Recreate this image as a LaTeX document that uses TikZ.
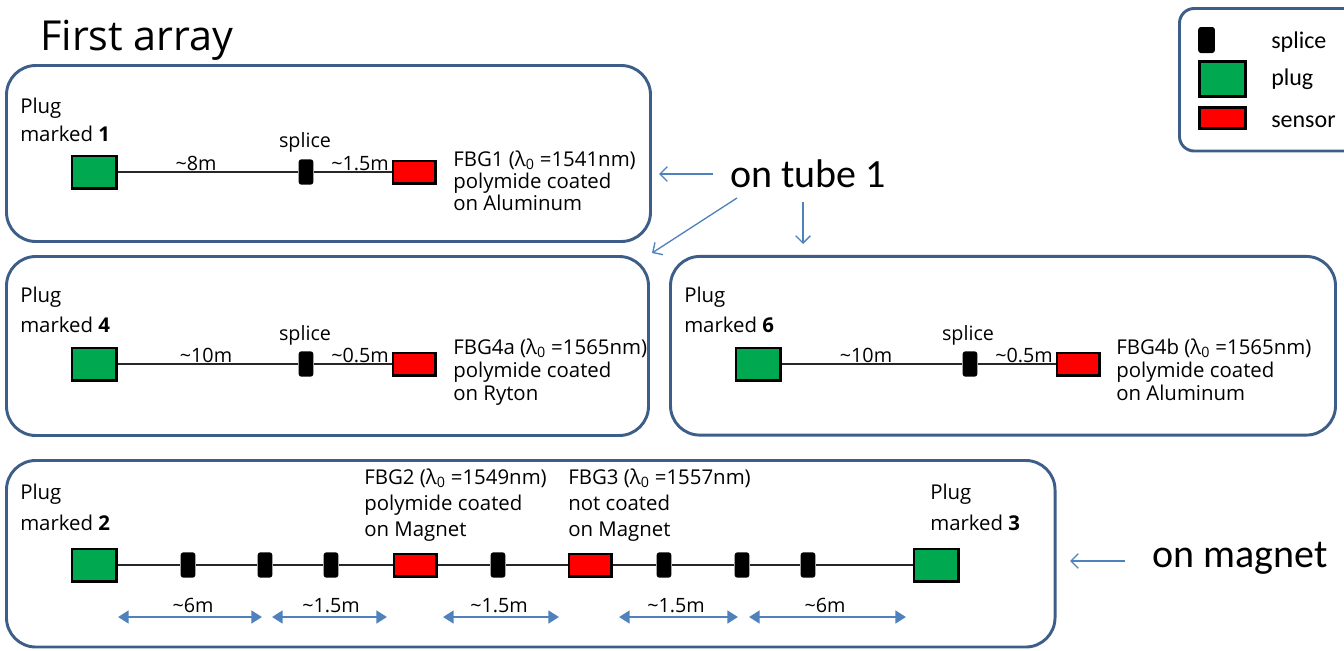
\documentclass[tikz,border=0pt]{standalone}
\usepackage{fontspec}
\setmainfont{Open Sans}
\newfontfamily\calib{Carlito}
\usetikzlibrary{arrows.meta}
\definecolor{framecol}{RGB}{62,94,138}
\definecolor{arrcol}{RGB}{79,129,189}
\definecolor{plugcol}{RGB}{0,168,80}
\definecolor{senscol}{RGB}{255,0,0}
\begin{document}
\begin{tikzpicture}[x=0.75pt,y=-0.75pt,
 frame/.style={draw=framecol, line width=2.2pt, rounded corners=22pt, inner sep=0pt},
 plugbox/.style={draw=black, line width=2pt, fill=plugcol, minimum width=33.25pt, minimum height=24.25pt, inner sep=0pt},
 splicebox/.style={fill=black, rounded corners=2pt, minimum width=11pt, minimum height=19pt, inner sep=0pt},
 sensbox/.style={draw=black, line width=2pt, fill=senscol, minimum width=31.75pt, minimum height=16.75pt, inner sep=0pt},
 fiber/.style={draw=black!85, line width=1.1pt},
 txt/.style={anchor=base west, inner sep=0pt, font=\fontsize{15.3}{18}\selectfont},
 lbl/.style={anchor=base, inner sep=0pt, font=\fontsize{14.8}{17}\selectfont},
 big/.style={anchor=base west, inner sep=0pt, font=\calib\fontsize{30}{36}\selectfont},
 legtxt/.style={anchor=base west, inner sep=0pt, font=\calib\fontsize{18}{22}\selectfont},
 pointer/.style={draw=arrcol, line width=1pt, -{Straight Barb[length=5.5pt,width=11pt]}},
 dim/.style={draw=arrcol, line width=2pt, {Triangle[length=8pt,width=9.5pt]}-{Triangle[length=8pt,width=9.5pt]}},
]
\useasboundingbox (0,0) rectangle (1344,650);

% title
\node[anchor=base west, inner sep=0pt, font=\fontsize{31}{36}\selectfont] (title) at (40,50) {First array};

% frames
\node[frame, minimum width=483pt, minimum height=132pt] (box1) at (328.5,153.5) {};
\node[frame, minimum width=481.5pt, minimum height=134.25pt] (box4) at (327.5,346) {};
\node[frame, minimum width=498.75pt, minimum height=134pt] (box6) at (1003,345.75) {};
\node[frame, minimum width=786.4pt, minimum height=139.9pt] (box23) at (530.75,553.75) {};

% legend
\node[frame, rounded corners=11pt, fill=white, minimum width=165.4pt, minimum height=106.9pt] (leg) at (1289.75,79.75) {};
\node[splicebox, minimum width=12.5pt, minimum height=19.5pt] (lsp) at (1206.5,40) {};
\node[plugbox, minimum width=34.75pt, minimum height=26.5pt] (lpl) at (1222.5,79) {};
\node[sensbox, minimum width=34.75pt, minimum height=16pt] (lse) at (1222.5,118) {};
\node[legtxt] (lspt) at (1271,48) {splice};
\node[legtxt] (lplt) at (1271,85) {plug};
\node[legtxt] (lset) at (1271,127) {sensor};

% ---- box 1
\node[txt] (p1a) at (20,113) {Plug};
\node[txt] (p1b) at (20,141) {marked \textbf{1}};
\node[plugbox] (g1) at (94,172) {};
\node[splicebox] (s1) at (306,172) {};
\node[sensbox] (r1) at (414,172) {};
\draw[fiber] (g1) -- (s1);
\draw[fiber] (s1) -- (r1);
\node[lbl] (sl1) at (305,147) {splice};
\node[lbl] (d1a) at (196,170) {\textasciitilde8m};
\node[lbl] (d1b) at (360,170) {\textasciitilde1.5m};
\node[txt] (f1a) at (453,166) {FBG1 (λ\textsubscript{0} =1541nm)};
\node[txt] (f1b) at (453,188) {polymide coated};
\node[txt] (f1c) at (453,210) {on Aluminum};

% ---- box 4
\node[txt] (p4a) at (20,302) {Plug};
\node[txt] (p4b) at (20,332) {marked \textbf{4}};
\node[plugbox] (g4) at (94,364) {};
\node[splicebox] (s4) at (306,364) {};
\node[sensbox] (r4) at (414,364) {};
\draw[fiber] (g4) -- (s4);
\draw[fiber] (s4) -- (r4);
\node[lbl] (sl4) at (305,340) {splice};
\node[lbl] (d4a) at (206,362) {\textasciitilde10m};
\node[lbl] (d4b) at (360,362) {\textasciitilde0.5m};
\node[txt] (f4a) at (453,354) {FBG4a (λ\textsubscript{0} =1565nm)};
\node[txt] (f4b) at (453,377) {polymide coated};
\node[txt] (f4c) at (453,400) {on Ryton};

% ---- box 6
\node[txt] (p6a) at (684,302) {Plug};
\node[txt] (p6b) at (684,332) {marked \textbf{6}};
\node[plugbox] (g6) at (758,364) {};
\node[splicebox] (s6) at (970,364) {};
\node[sensbox] (r6) at (1078,364) {};
\draw[fiber] (g6) -- (s6);
\draw[fiber] (s6) -- (r6);
\node[lbl] (sl6) at (968,340) {splice};
\node[lbl] (d6a) at (866,362) {\textasciitilde10m};
\node[lbl] (d6b) at (1024,362) {\textasciitilde0.5m};
\node[txt] (f6a) at (1116,354) {FBG4b (λ\textsubscript{0} =1565nm)};
\node[txt] (f6b) at (1116,377) {polymide coated};
\node[txt] (f6c) at (1116,400) {on Aluminum};

% ---- bottom box
\node[txt] (p2a) at (20,499) {Plug};
\node[txt] (p2b) at (20,530) {marked \textbf{2}};
\node[txt] (p3a) at (930,499) {Plug};
\node[txt] (p3b) at (930,530) {marked \textbf{3}};
\node[plugbox] (g2) at (94,565) {};
\node[splicebox] (b1) at (188,565) {};
\node[splicebox] (b2) at (265,565) {};
\node[splicebox] (b3) at (331,565) {};
\node[sensbox] (r2) at (415,565) {};
\node[splicebox] (b4) at (498,565) {};
\node[sensbox] (r3) at (590,565) {};
\node[splicebox] (b5) at (664,565) {};
\node[splicebox] (b6) at (742,565) {};
\node[splicebox] (b7) at (808,565) {};
\node[plugbox] (g3) at (936,565) {};
\draw[fiber] (g2) -- (b1);
\draw[fiber] (b1) -- (b2);
\draw[fiber] (b2) -- (b3);
\draw[fiber] (b3) -- (r2);
\draw[fiber] (r2) -- (b4);
\draw[fiber] (b4) -- (r3);
\draw[fiber] (r3) -- (b5);
\draw[fiber] (b5) -- (b6);
\draw[fiber] (b6) -- (b7);
\draw[fiber] (b7) -- (g3);
\node[txt] (f2a) at (364,484) {FBG2 (λ\textsubscript{0} =1549nm)};
\node[txt] (f2b) at (364,510) {polymide coated};
\node[txt] (f2c) at (364,536) {on Magnet};
\node[txt] (f3a) at (568,484) {FBG3 (λ\textsubscript{0} =1557nm)};
\node[txt] (f3b) at (568,510) {not coated};
\node[txt] (f3c) at (568,536) {on Magnet};

% dimension arrows
\coordinate (a1l) at (118,617); \coordinate (a1r) at (262,617);
\coordinate (a2l) at (272,617); \coordinate (a2r) at (387,617);
\coordinate (a3l) at (443,617); \coordinate (a3r) at (559,617);
\coordinate (a4l) at (619,617); \coordinate (a4r) at (738,617);
\coordinate (a5l) at (749,617); \coordinate (a5r) at (906,617);
\draw[dim] (a1l) -- (a1r);
\draw[dim] (a2l) -- (a2r);
\draw[dim] (a3l) -- (a3r);
\draw[dim] (a4l) -- (a4r);
\draw[dim] (a5l) -- (a5r);
\node[lbl] (m1) at (193,612) {\textasciitilde6m};
\node[lbl] (m2) at (331,612) {\textasciitilde1.5m};
\node[lbl] (m3) at (499,612) {\textasciitilde1.5m};
\node[lbl] (m4) at (676,612) {\textasciitilde1.5m};
\node[lbl] (m5) at (825,612) {\textasciitilde6m};

% side labels
\node[big] (tube) at (730,187) {on tube 1};
\node[big] (mag) at (1152,567) {on magnet};
\coordinate (tw) at (713,174); \coordinate (t1) at (659,174);
\coordinate (tsw) at (737,198); \coordinate (t4) at (652,253);
\coordinate (ts) at (803,202); \coordinate (t6) at (803,244);
\coordinate (mw) at (1125,561); \coordinate (m23) at (1070,561);
\draw[pointer] (tw) -- (t1);
\draw[pointer] (tsw) -- (t4);
\draw[pointer] (ts) -- (t6);
\draw[pointer] (mw) -- (m23);
\end{tikzpicture}
\end{document}
